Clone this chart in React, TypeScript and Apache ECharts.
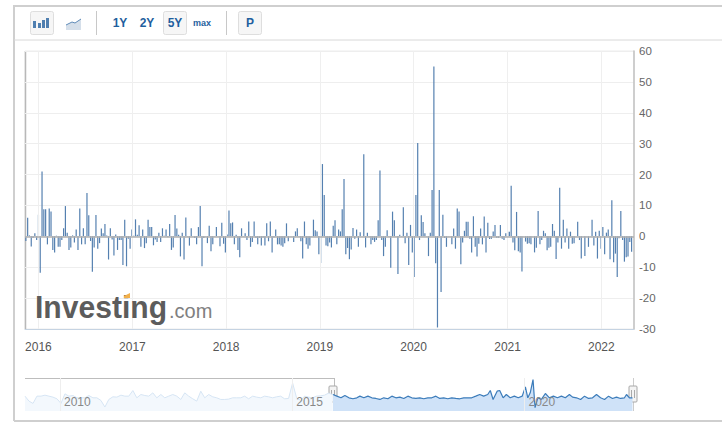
import React, { useEffect, useRef } from "react";
import * as echarts from "echarts";

const firstWeek = [2015, 10, 13];
const yTicks = { min: -30, max: 60, step: 10 };
const ONE_YEAR = 365 * 86400000;
const gridYears = [2016, 2017, 2018, 2019, 2020, 2021, 2022];
const navGridYears = [2010, 2015, 2020];

const weeklyChange = [
  -1.5,6,0.3,-3.3,-0.5,1,-1.2,
  7,-11.8,21,8.8,8.8,-2.6,9,8,-4.4,-5.2,
  0.2,-3.4,-3.4,-1.2,2.6,9.8,1.2,-4.4,-3.6,0.3,
  -2,2.2,-4.4,9,-2.6,2.6,-2.6,14,6.8,-1.5,
  -11.5,-3.6,6.9,-4,-2.2,2.5,1,4,0.3,-7.5,
  2.6,-1,-6.2,0.6,-4.4,-1.2,-1.2,-9.3,5.4,-9.7,
  -0.8,-4,2.2,0.2,5.5,0.5,3.6,-3.4,2.2,-3.8,
  -2.2,5.4,3,3,-2.9,-1,-1.8,1.2,-1.8,2.6,
  0.2,2.2,-0.3,4,-4.4,-3.6,6.9,2.5,0.5,-6.5,
  1.2,-7.5,6.1,0.1,-3,2.6,0.1,-0.5,-2.6,3,
  9.8,-9.7,-0.5,0.1,-2.2,3.4,-4.8,-2.6,0.1,3,
  0.1,-3.2,4.4,-2.4,-5.2,0.6,8.4,4.2,4.5,-2.6,
  0.5,-4.4,-6.8,2.6,0.1,1,-1.2,4.8,-3.4,-1.8,
  4.8,-0.5,-2.6,-0.5,-3,-0.4,-3,4.2,-1.6,4.8,
  -5.2,-0.4,2.2,-2.6,-2.6,-3,-3.4,-2.2,4.2,-1.6,
  0.1,0.1,-1.8,1.6,2.6,0.1,-1.6,-7.2,4.8,-2.6,
  -4,-3,0.1,5.4,2,1.6,-5.8,-8.6,23.4,13.4,
  -3,-3.2,-2,-3.6,3.4,5.2,-2.6,2.2,1.6,8.8,
  18.6,-5.8,-3.8,-7.4,-4.3,2.7,-0.8,2.2,-3.4,1.3,
  0,26.6,-3.6,1.2,0.1,-2.6,-1.2,-1.8,-1.2,5.2,
  21.3,-1.2,-6.4,-3.4,2,0.1,-10.2,8,5.2,0.1,
  -12.2,0.5,0.1,9.4,-2.2,1.2,-9.3,3.7,-5.2,-13.2,
  13.4,30.2,-1.2,6.8,4.6,1,0.1,-6.4,1.2,15,
  55,-8.7,-29.5,15,-18,7,-0.5,-3.4,0.1,0.1,
  -2.6,2.5,-4,9,8,-9,-2,1.8,4.7,4.7,
  -0.8,-5.2,6.5,-3.4,-6.5,-2.4,2.5,-2.6,6.4,-5.2,
  4.4,-0.9,-0.8,1.6,3.7,-0.5,-0.5,3.7,-0.8,-1.2,
  1,1.5,1.5,16.4,-2,-4.5,7.9,-4.8,-5.2,-11.4,
  0.1,-1.7,-2.4,-2.2,-2.6,0.1,-5.2,-3.7,8.2,-2.6,
  -1.2,1.8,1,-4.5,-3.7,-3.4,4,1.8,-7.3,-2,
  15.7,-4,5.4,-2,2.5,-4,1.5,-2.4,-2.2,0.1,
  4.7,-1.2,-7.2,0.1,-6.4,0.1,-3.4,0.1,5.4,-3,
  1.5,-7.2,1.8,-4,3,-5.8,1.2,2.2,-7.4,11.7,
  -8.4,-5.6,-13.2,-0.6,8.2,-1.2,-8.2,-6.8,-6.5,-1.8,-5,
];

// Navigator, faded part: about monthly readings from April 2009.
const navHistory = [
  5,-10,-17,5,5,8,5,2,-3,-17,12,5,7,0,0,0,7,0,0,-8,-28,-5,3,2,8,5,5,22,0,10,
  7,5,15,0,10,0,5,10,5,-5,15,5,-3,-10,20,0,10,3,0,-5,-5,-4,0,0,0,5,-3,5,2,0,
  5,3,0,3,5,-3,-2,45,0,-8,5,2,0,5,6,8,14,10,
];

// Navigator, selected part: [steps after mid-November 2015, value].
const navRecent: [number, number][] = [
  [0,10],[1,5],[2,0],[3,7],[4,0],[5,-3],[6,0],
  [6.75,5],[7.75,0],[8.75,5],[9.75,0],[10.75,-2],[11.75,-5],[12.75,0],[13.75,-3],
  [14.75,5],[15.75,0],[16.75,2],[17.75,-2],[18.75,5],[19.75,0],[20.75,-2],[21.75,0],
  [22.75,-3],[23.75,0],[24.75,0],[25.75,5],[26.75,-2],[27.75,0],[28.75,-3],[29.75,0],
  [30.75,-2],[31.75,-3],[32.75,0],[33.75,0],[34.75,0],[35.75,5],[36.75,10],[37.75,5],
  [38.75,10],[39.4,22],[40.1,-5],[41.1,20],[41.75,22],[42.6,0],[43.4,10],[44.4,0],
  [45.4,5],[46.4,0],[47.4,5],[48.2,33],[48.8,0],[49.4,15],[50.1,55],[50.6,-30],[51.3,0],
  [52.2,-5],[53.2,13],[54.2,0],[55.2,5],[56.2,0],[57.2,5],[58.2,0],[59.2,10],[60,2],
  [61,0],[62,-5],[63,5],[64,-2],[65,0],[66,10],[67,0],[68,-5],[69,5],[70,-2],[71,2],
  [72,-2],[73,0],[73.5,10],[74.25,0],[75,0],
];
const daysPerNavStep = 31.4;

const ts = (y: number, m: number, d: number) => new Date(y, m, d).getTime();
const weeklyData = weeklyChange.map((v, i) => [
  ts(firstWeek[0], firstWeek[1], firstWeek[2] + i * 7),
  v,
]);
const historyData = navHistory.map((v, i) => [
  ts(2009, 3, 1 + Math.round(i * daysPerNavStep)),
  v,
]);
const recentData = navRecent.map(([m, v]) => [
  ts(2015, 10, 17 + Math.round(m * daysPerNavStep)),
  v,
]);

const font = "'Liberation Sans', Arial, sans-serif";
const blue = "#1f5f9e";

const yearOnly = (v: number) => {
  const d = new Date(v);
  return d.getMonth() === 0 && d.getDate() === 1 ? String(d.getFullYear()) : "";
};
const fiveYearOnly = (v: number) => {
  const d = new Date(v);
  return d.getMonth() === 0 && d.getDate() === 1 && d.getFullYear() % 5 === 0
    ? String(d.getFullYear())
    : "";
};

function button(x: number, w: number) {
  return {
    type: "rect",
    shape: { x: x + 0.5, y: 11.5, width: w, height: 23, r: 2 },
    style: { fill: "#f6f6f6", stroke: "#dedede", lineWidth: 1 },
  };
}
function label(text: string, x: number, size: number, weight = "bold") {
  return {
    type: "text",
    x,
    y: 23,
    style: {
      text,
      fill: blue,
      font: `${weight} ${size}px ${font}`,
      textAlign: "center",
      textVerticalAlign: "middle",
    },
  };
}
function line(x1: number, y1: number, x2: number, y2: number, stroke: string, lineWidth = 1) {
  return { type: "line", shape: { x1, y1, x2, y2 }, style: { stroke, lineWidth } };
}
function handle(x: number) {
  return {
    type: "group",
    z: 20,
    children: [
      {
        type: "rect",
        shape: { x: x - 4, y: 386, width: 8, height: 16, r: 1 },
        style: { fill: "#f4f4f4", stroke: "#a8a8a8", lineWidth: 1 },
      },
      line(x - 1.5, 390, x - 1.5, 398, "#aaa"),
      line(x + 1.5, 390, x + 1.5, 398, "#aaa"),
    ],
  };
}

const graphics: any[] = [
  line(14, 6, 722, 6, "#cfcfcf", 2),
  line(14, 5, 14, 421, "#cfcfcf", 2),
  line(14, 421, 722, 421, "#cfcfcf", 2),
  line(14, 40, 722, 40, "#d8d8d8", 1),
  button(30, 23),
  { type: "rect", shape: { x: 33, y: 21, width: 3, height: 7 }, style: { fill: "#4f7fb0" } },
  { type: "rect", shape: { x: 38, y: 23, width: 3, height: 5 }, style: { fill: "#4f7fb0" } },
  { type: "rect", shape: { x: 42, y: 20, width: 3, height: 8 }, style: { fill: "#4f7fb0" } },
  { type: "rect", shape: { x: 46, y: 18, width: 3, height: 10 }, style: { fill: "#4f7fb0" } },
  {
    type: "polygon",
    shape: { points: [[66, 25], [72, 22], [75, 23], [81, 19], [81, 30], [66, 30]] },
    style: { fill: "#d5dfea" },
  },
  {
    type: "polyline",
    shape: { points: [[66, 25], [72, 22], [75, 23], [81, 19]] },
    style: { stroke: "#5f8bb8", lineWidth: 1, fill: "none" },
  },
  line(96.5, 11, 96.5, 35, "#c8c8c8"),
  button(163, 23),
  label("1Y", 120, 12),
  label("2Y", 147, 12),
  label("5Y", 175, 12),
  label("max", 202, 9),
  line(226.5, 11, 226.5, 35, "#c8c8c8"),
  button(238, 23),
  label("P", 250, 12),
  line(25.5, 51, 25.5, 329, "#b8b8b8", 1.5),
  {
    type: "text",
    x: 35,
    y: 307,
    scaleX: 0.94,
    z: 10,
    style: {
      text: "Investing",
      fill: "#5c5c5c",
      font: `bold 32px ${font}`,
      textVerticalAlign: "middle",
    },
  },
  {
    type: "polygon",
    z: 11,
    shape: { points: [[124, 296], [130, 293], [130, 298], [124, 298]] },
    style: { fill: "#f2b04a" },
  },
  {
    type: "text",
    x: 169,
    y: 311,
    z: 10,
    style: {
      text: ".com",
      fill: "#808080",
      font: `normal 20px ${font}`,
      textVerticalAlign: "middle",
    },
  },
  line(25, 378.5, 334, 378.5, "#bdbdbd", 1),
  line(334.5, 378, 334.5, 411, "#bdbdbd", 1),
  line(633.5, 378, 633.5, 411, "#cccccc", 1),
  handle(333),
  handle(633),
];

export default function App() {
  const ref = useRef<HTMLDivElement>(null);
  useEffect(() => {
    const chart = echarts.init(ref.current!, null, { renderer: "svg" });
    chart.setOption({
      animation: false,
      backgroundColor: "#ffffff",
      grid: [
        { left: 25, right: 88, top: 51, bottom: 97, show: true, borderColor: "#ececec", borderWidth: 1 },
        { left: 25, right: 89, top: 378, height: 33 },
      ],
      xAxis: [
        {
          type: "time",
          gridIndex: 0,
          min: ts(2015, 10, 12),
          max: ts(2022, 4, 6),
          minInterval: ONE_YEAR,
          axisLine: { onZero: false, lineStyle: { color: "#c5d3e2", width: 1 } },
          axisTick: { show: false },
          splitLine: { show: false },
          axisLabel: {
            formatter: yearOnly,
            color: "#555555",
            fontFamily: font,
            fontSize: 12,
            margin: 12,
            hideOverlap: false,
            showMinLabel: false,
            showMaxLabel: false,
          },
        },
        {
          type: "time",
          gridIndex: 1,
          z: 10,
          min: ts(2009, 3, 1),
          max: ts(2022, 4, 3),
          minInterval: ONE_YEAR,
          maxInterval: ONE_YEAR,
          axisLine: { show: false },
          axisTick: { show: false },
          splitLine: { show: false },
          axisLabel: {
            inside: true,
            formatter: fiveYearOnly,
            color: "#888888",
            fontFamily: font,
            fontSize: 12,
            margin: 3,
            align: "left",
            padding: [0, 0, 0, 4],
            hideOverlap: false,
            showMinLabel: false,
            showMaxLabel: false,
          },
        },
      ],
      yAxis: [
        {
          type: "value",
          gridIndex: 0,
          position: "right",
          min: yTicks.min,
          max: yTicks.max,
          interval: yTicks.step,
          axisLine: { show: true, lineStyle: { color: "#c0c0c0", width: 1.5 } },
          axisTick: { show: false },
          splitLine: { show: true, lineStyle: { color: "#eeeeee", width: 1 } },
          axisLabel: { color: "#666666", fontFamily: font, fontSize: 11.5, margin: 5 },
        },
        {
          type: "value",
          gridIndex: 1,
          min: -40,
          max: 60,
          show: false,
          splitLine: { show: false },
        },
      ],
      series: [
        {
          type: "bar",
          xAxisIndex: 0,
          yAxisIndex: 0,
          z: 3,
          data: [],
          markLine: {
            silent: true,
            symbol: "none",
            label: { show: false },
            lineStyle: { color: "#efefef", width: 1, type: "solid" },
            data: gridYears.map((y) => ({ xAxis: ts(y, 0, 1) })),
          },
        },
        {
          type: "bar",
          xAxisIndex: 0,
          yAxisIndex: 0,
          z: 4,
          data: weeklyData,
          barWidth: 1.2,
          barGap: "-100%",
          itemStyle: { color: "#5580b0" },
          markLine: {
            silent: true,
            symbol: "none",
            label: { show: false },
            lineStyle: { color: "#b0b0b0", width: 1.5, type: "solid" },
            data: [{ yAxis: 0 }],
          },
        },
        {
          type: "line",
          xAxisIndex: 1,
          yAxisIndex: 1,
          data: historyData,
          showSymbol: false,
          lineStyle: { color: "#d6e5f4", width: 1 },
          areaStyle: { color: "#f3f8fd", origin: "start", opacity: 1 },
          markLine: {
            silent: true,
            symbol: "none",
            label: { show: false },
            lineStyle: { color: "#eeeeee", width: 1, type: "solid" },
            data: navGridYears.map((y) => ({ xAxis: ts(y, 0, 1) })),
          },
        },
        {
          type: "line",
          xAxisIndex: 1,
          yAxisIndex: 1,
          data: recentData,
          showSymbol: false,
          lineStyle: { color: "#3c7cba", width: 1.2 },
          areaStyle: { color: "#cfe2f8", origin: "start", opacity: 1 },
        },
      ],
      graphic: graphics,
    });
    return () => chart.dispose();
  }, []);
  return (
    <div
      ref={ref}
      style={{ position: "absolute", left: 0, top: 0, width: 722, height: 426 }}
    />
  );
}
